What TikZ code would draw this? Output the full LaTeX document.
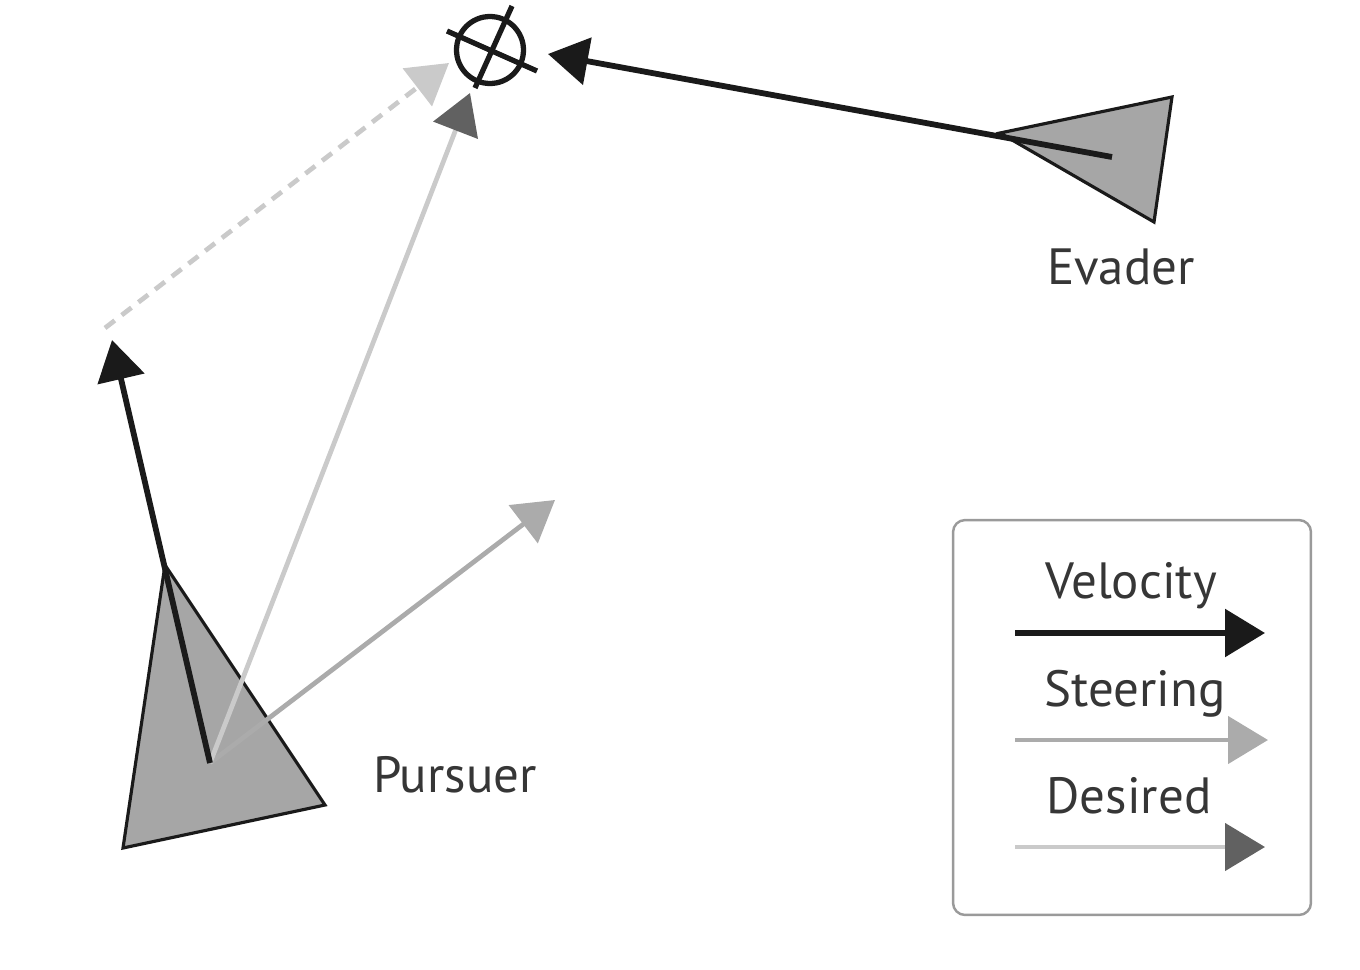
\documentclass[tikz,border=0pt]{standalone}
\usepackage{fontspec}
\setmainfont{PT Sans}
\usetikzlibrary{arrows.meta}
\definecolor{trifill}{HTML}{A6A6A6}
\definecolor{steercol}{HTML}{ABABAB}
\definecolor{desircol}{HTML}{CACACA}
\definecolor{darkhead}{HTML}{616161}
\definecolor{framecol}{HTML}{9A9A9A}
\definecolor{inkcol}{HTML}{1A1A1A}
\tikzset{
  agent/.style={draw=inkcol, line width=1.8pt, fill=trifill, line join=miter},
  velarrow/.style={draw=inkcol, line width=3.3pt, -{Triangle[length=0.8cm,width=0.94cm]}},
  steerarrow/.style={draw=steercol, line width=2.7pt, -{Triangle[length=0.8cm,width=0.94cm]}},
  desirarrow/.style={draw=desircol, line width=2.7pt, -{Triangle[length=0.8cm,width=0.94cm,color=darkhead]}},
  dasharrow/.style={draw=desircol, line width=2.7pt, dash pattern=on 7pt off 5pt, -{Triangle[length=0.8cm,width=0.94cm,color=desircol]}},
  lbl/.style={font=\fontsize{29}{35}\selectfont, text=inkcol!88, inner sep=0pt, anchor=base},
  legbox/.style={draw=framecol, line width=1.4pt, rounded corners=0.24cm}
}
\begin{document}
\begin{tikzpicture}[x=0.02cm,y=-0.02cm]
\useasboundingbox (0,0) rectangle (1360,970);
% coordinates
\coordinate (target) at (490,50);
\coordinate (evc) at (1112,157);
\coordinate (evtip) at (548,54);
\coordinate (pc) at (210,763);
\coordinate (pvtip) at (112,340);
\coordinate (ptip) at (555,500);
\coordinate (dtip) at (470,93);
\coordinate (dstart) at (105,328);
\coordinate (dshtip) at (449,63);
% agents
\draw[agent] (1000,133) -- (1172,97) -- (1154,222) -- cycle;
\draw[agent] (165,565) -- (325,805) -- (123,848) -- cycle;
% crosshair
\node[draw=inkcol, circle, line width=3pt, minimum size=1.34cm, inner sep=0pt] (cross) at (target) {};
\draw[inkcol, line width=3pt] (447,31) -- (537,71);
\draw[inkcol, line width=3pt] (512,6) -- (475,88);
% arrows
\draw[steerarrow] (pc) -- (ptip);
\draw[desirarrow] (pc) -- (dtip);
\draw[dasharrow] (dstart) -- (dshtip);
\draw[velarrow] (pc) -- (pvtip);
\draw[velarrow] (evc) -- (evtip);
% labels
\node[lbl] (evlbl) at (1121,284) {Evader};
\node[lbl] (pulbl) at (455,792) {Pursuer};
% legend
\node[legbox, minimum width=7.16cm, minimum height=7.9cm, inner sep=0pt] (legend) at (1132,717.5) {};
\node[lbl] (l1) at (1131,598) {Velocity};
\node[lbl] (l2) at (1135,706) {Steering};
\node[lbl] (l3) at (1129,813) {Desired};
\coordinate (l1a) at (1015,633); \coordinate (l1b) at (1265,633);
\coordinate (l2a) at (1015,740); \coordinate (l2b) at (1268,740);
\coordinate (l3a) at (1015,847); \coordinate (l3b) at (1265,847);
\draw[velarrow] (l1a) -- (l1b);
\draw[steerarrow] (l2a) -- (l2b);
\draw[desirarrow] (l3a) -- (l3b);
\end{tikzpicture}
\end{document}
